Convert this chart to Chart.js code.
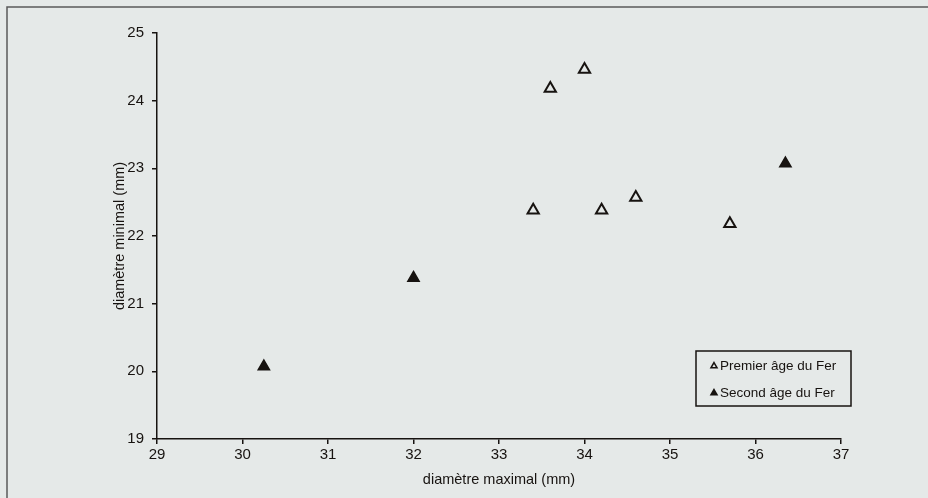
<!DOCTYPE html>
<html>
<head>
<meta charset="utf-8">
<script src="https://cdn.jsdelivr.net/npm/chart.js@4/dist/chart.umd.min.js"></script>
<style>
  html, body { margin: 0; padding: 0; background: #e5e9e8; }
  #wrap { width: 928px; height: 498px; }
</style>
</head>
<body>
<div id="wrap"><canvas id="graf" width="928" height="498"></canvas></div>
<script>
// Données
var premierX = [34.0, 33.6, 34.6, 33.4, 34.2, 35.7];
var premierY = [24.46, 24.18, 22.57, 22.38, 22.38, 22.18];
var secondX = [30.25, 32.0, 36.35];
var secondY = [20.07, 21.38, 23.07];
var etiquettes = ['Premier âge du Fer', 'Second âge du Fer'];
var ticksX = [29, 30, 31, 32, 33, 34, 35, 36, 37];
var ticksY = [19, 20, 21, 22, 23, 24, 25];

var encre = '#171310';
var police = 'Arial, "Liberation Sans", sans-serif';

function points(xs, ys) {
    return xs.map(function(x, i) { return { x: x, y: ys[i] }; });
}

// petit triangle pour la légende
function triangle(ctx, x, y, r, plein) {
    ctx.beginPath();
    ctx.moveTo(x, y - r);
    ctx.lineTo(x + r * 0.866, y + r / 2);
    ctx.lineTo(x - r * 0.866, y + r / 2);
    ctx.closePath();
    if (plein) { ctx.fillStyle = encre; ctx.fill(); }
    ctx.lineWidth = 1.5;
    ctx.strokeStyle = encre;
    ctx.stroke();
}

// fond + cadre de la page
const fondCadre = {
    id: 'fondCadre',
    beforeDraw(chart) {
        var ctx = chart.ctx;
        ctx.save();
        ctx.fillStyle = '#e5e9e8';
        ctx.fillRect(0, 0, chart.width, chart.height);
        ctx.strokeStyle = '#5a5a5a';
        ctx.lineWidth = 1.5;
        ctx.beginPath();
        ctx.moveTo(7, chart.height);
        ctx.lineTo(7, 7);
        ctx.lineTo(chart.width, 7);
        ctx.stroke();
        ctx.restore();
    }
};

// légende encadrée dans la zone du graphique
const legendeBoite = {
    id: 'legendeBoite',
    afterDraw(chart) {
        var ctx = chart.ctx;
        var x0 = 696, y0 = 351, w = 155, h = 55;
        ctx.save();
        ctx.strokeStyle = encre;
        ctx.lineWidth = 1.5;
        ctx.strokeRect(x0, y0, w, h);
        ctx.font = '13.5px ' + police;
        ctx.fillStyle = encre;
        ctx.textBaseline = 'middle';
        chart.data.datasets.forEach(function(ds, i) {
            var yy = y0 + 15 + i * 27;
            triangle(ctx, x0 + 18, yy, 3.5, i === 1);
            ctx.fillStyle = encre;
            ctx.fillText(ds.label, x0 + 24, yy);
        });
        ctx.restore();
    }
};

new Chart(document.getElementById('graf'), {
    type: 'scatter',
    data: {
        datasets: [{
            label: etiquettes[0],
            data: points(premierX, premierY),
            pointStyle: 'triangle',
            pointRadius: 6.5,
            pointHoverRadius: 6.5,
            borderWidth: 2,
            borderColor: encre,
            backgroundColor: 'rgba(0,0,0,0)'
        }, {
            label: etiquettes[1],
            data: points(secondX, secondY),
            pointStyle: 'triangle',
            pointRadius: 6.5,
            pointHoverRadius: 6.5,
            borderWidth: 1.5,
            borderColor: encre,
            backgroundColor: encre
        }]
    },
    options: {
        responsive: false,
        animation: false,
        layout: { padding: { top: 33, right: 87, bottom: 7, left: 100 } },
        plugins: {
            legend: { display: false },
            tooltip: { enabled: false }
        },
        scales: {
            x: {
                type: 'linear',
                min: ticksX[0],
                max: ticksX[ticksX.length - 1],
                afterBuildTicks: function(s) { s.ticks = ticksX.map(function(v) { return { value: v }; }); },
                afterFit: function(s) { s.height = 52; },
                grid: { drawOnChartArea: false, drawTicks: true, tickLength: 5, color: encre, lineWidth: 1.5 },
                border: { display: true, color: encre, width: 1.5 },
                ticks: { color: encre, padding: 2, font: { family: police, size: 15 }, maxRotation: 0 },
                title: {
                    display: true,
                    text: 'diamètre maximal (mm)',
                    color: encre,
                    font: { family: police, size: 14.5 },
                    padding: { top: 0, bottom: 2 }
                }
            },
            y: {
                type: 'linear',
                min: ticksY[0],
                max: ticksY[ticksY.length - 1],
                afterBuildTicks: function(s) { s.ticks = ticksY.map(function(v) { return { value: v }; }); },
                afterFit: function(s) { s.width = 57; },
                grid: { drawOnChartArea: false, drawTicks: true, tickLength: 5, color: encre, lineWidth: 1.5 },
                border: { display: true, color: encre, width: 1.5 },
                ticks: { color: encre, padding: 8, font: { family: police, size: 15 } },
                title: {
                    display: true,
                    text: 'diamètre minimal (mm)',
                    color: encre,
                    font: { family: police, size: 14.5 },
                    padding: { top: 11, bottom: 0 }
                }
            }
        }
    },
    plugins: [fondCadre, legendeBoite]
});
</script>
</body>
</html>
